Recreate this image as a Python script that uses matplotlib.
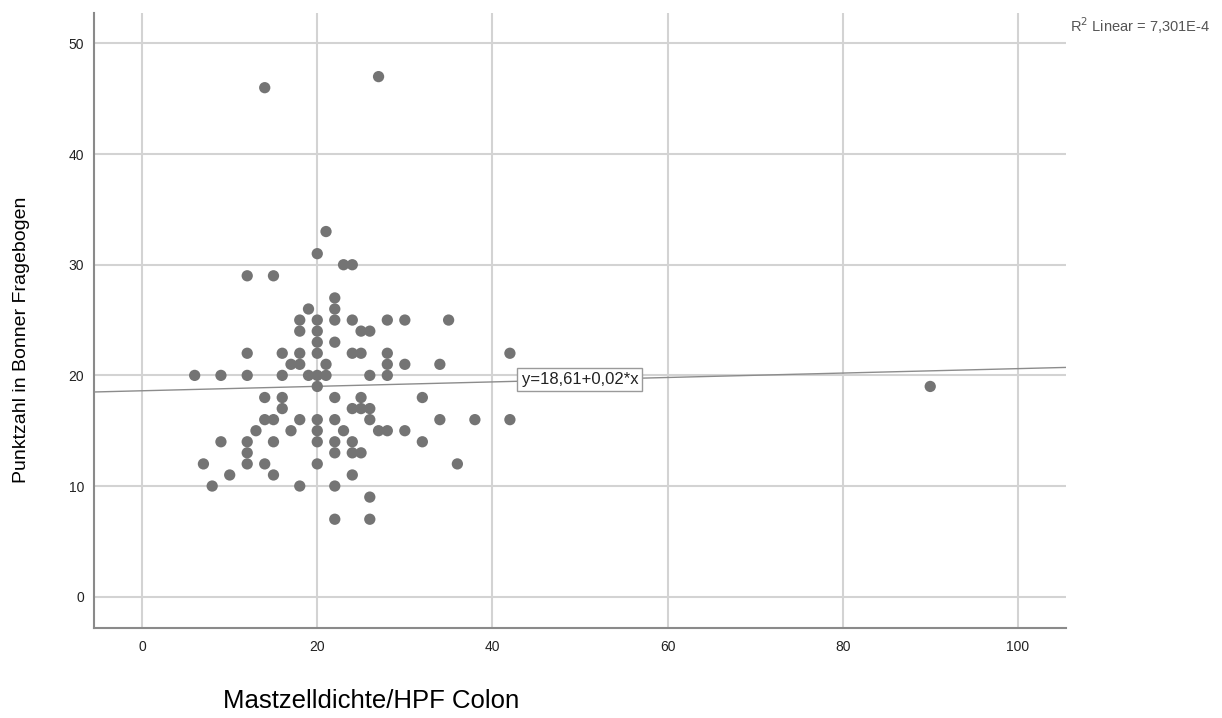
import numpy as np
import matplotlib.pyplot as plt

plt.rcParams['font.family'] = ['Liberation Sans', 'DejaVu Sans']

# values, one point per pair
mastzellen = [27, 14, 21, 20, 23, 24, 12, 15, 22, 19, 22,
              18, 20, 22, 24, 28, 30, 35,
              18, 20, 25, 26,
              20, 22,
              12, 16, 18, 20, 24, 25, 28, 42,
              17, 18, 21, 28, 30, 34,
              6, 9, 12, 16, 19, 20, 21, 26, 28,
              20, 90,
              14, 16, 22, 25, 32,
              16, 24, 25, 26,
              14, 15, 18, 20, 22, 26, 34, 38, 42,
              13, 17, 20, 23, 27, 28, 30,
              9, 12, 15, 20, 22, 24, 32,
              12, 22, 24, 25,
              7, 12, 14, 20, 36,
              10, 15, 24,
              8, 18, 22,
              26,
              22, 26]
punktzahl = [47, 46, 33, 31, 30, 30, 29, 29, 27, 26, 26,
             25, 25, 25, 25, 25, 25, 25,
             24, 24, 24, 24,
             23, 23,
             22, 22, 22, 22, 22, 22, 22, 22,
             21, 21, 21, 21, 21, 21,
             20, 20, 20, 20, 20, 20, 20, 20, 20,
             19, 19,
             18, 18, 18, 18, 18,
             17, 17, 17, 17,
             16, 16, 16, 16, 16, 16, 16, 16, 16,
             15, 15, 15, 15, 15, 15, 15,
             14, 14, 14, 14, 14, 14, 14,
             13, 13, 13, 13,
             12, 12, 12, 12, 12,
             11, 11, 11,
             10, 10, 10,
             9,
             7, 7]

# regression as printed in the chart
intercept = 18.61
slope = 0.02
fit_label = "y=18,61+0,02*x"
r2_label = "R$^2$ Linear = 7,301E-4"

xticks = [0, 20, 40, 60, 80, 100]
yticks = [0, 10, 20, 30, 40, 50]

fig = plt.figure(figsize=(12.22, 7.18), dpi=100)
ax = fig.add_axes([0.0769, 0.1258, 0.7954, 0.8561])

ax.set_xlim(-5.5, 105.5)
ax.set_ylim(-2.8, 52.75)
ax.set_xticks(xticks)
ax.set_yticks(yticks)
ax.tick_params(length=0, labelsize=10, colors='#222222')
ax.tick_params(axis='x', pad=9)
ax.tick_params(axis='y', pad=7)

ax.grid(True, color='#d3d3d3', lw=1.5)
ax.set_axisbelow(True)
for side in ['top', 'right']:
    ax.spines[side].set_visible(False)
for side in ['left', 'bottom']:
    ax.spines[side].set_color('#8a8a8a')
    ax.spines[side].set_linewidth(1.5)

# fit line over the whole x range
xs = np.array(ax.get_xlim())
ax.plot(xs, intercept + slope * xs, color='#8c8c8c', lw=1, zorder=2)

ax.scatter(mastzellen, punktzahl, s=66, color='#747474', edgecolors='none', zorder=3)

ax.text(50, intercept + slope * 50, fit_label, fontsize=12, ha='center', va='center',
        color='#222222', zorder=4,
        bbox=dict(boxstyle='square,pad=0.25', fc='white', ec='#9a9a9a', lw=1))

fig.text(0.990, 0.955, r2_label, fontsize=10.5, color='#555555', ha='right', va='baseline')
fig.text(0.1825, 0.0139, "Mastzelldichte/HPF Colon", fontsize=18.5, ha='left', va='baseline')
fig.text(0.018, 0.527, "Punktzahl in Bonner Fragebogen", fontsize=14, rotation=90,
         ha='center', va='center')

fig.savefig("out.png", dpi=100)
